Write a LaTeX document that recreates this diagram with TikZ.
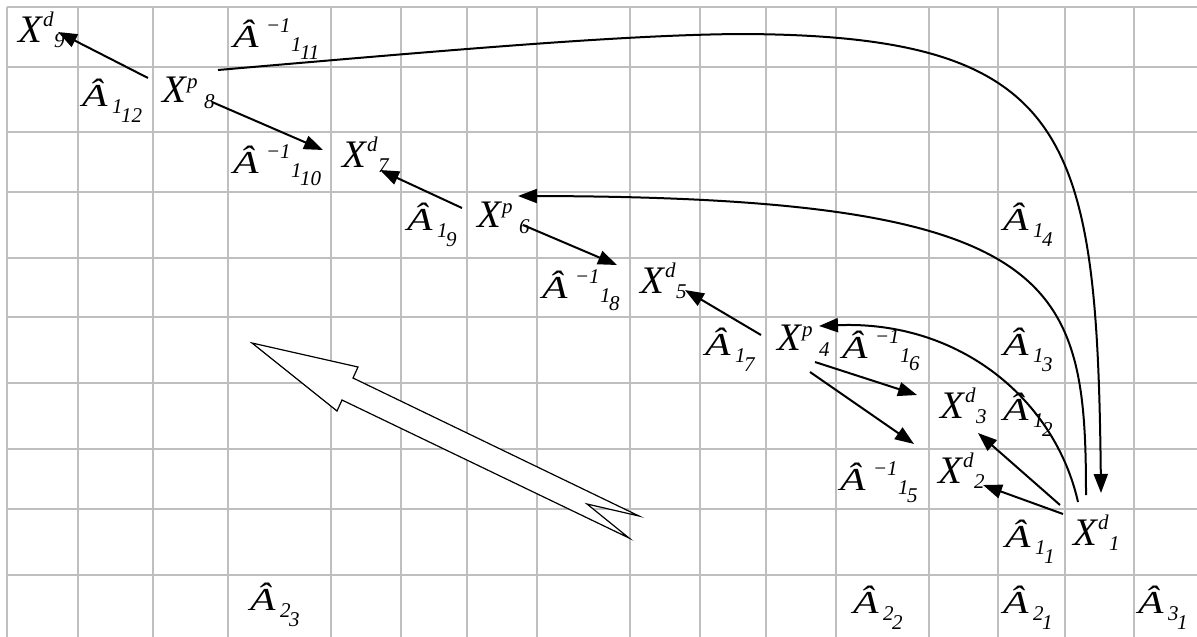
\documentclass[tikz,border=0pt]{standalone}
\usepackage{fontspec}
\setmainfont{Liberation Serif}
\usepackage{graphicx}
\usetikzlibrary{arrows.meta}
\newcommand\fX{\fontsize{39}{40}\selectfont\itshape}
\newcommand\fS{\fontsize{21}{22}\selectfont\itshape}
\newcommand\Ahat{\scalebox{1.3}[1]{\fontsize{32}{34}\selectfont\itshape Â}}
\newcommand\Xdl[2]{\rlap{\fX X}\hspace{25pt}\raisebox{16pt}{\rlap{\fS #1}}\hspace{11pt}\raisebox{-5pt}{\fS #2}}
\newcommand\Xpl[2]{\rlap{\fX X}\hspace{25pt}\raisebox{14pt}{\rlap{\fS #1}}\hspace{17pt}\raisebox{-6pt}{\fS #2}}
\newcommand\Al[2]{\rlap{\Ahat}\hspace{30pt}\raisebox{-7pt}{\rlap{\fS #1}}\hspace{9pt}\raisebox{-16pt}{\fS #2}}
\newcommand\Ail[2]{\rlap{\Ahat}\hspace{33pt}\raisebox{15pt}{\rlap{\fS −1}}\hspace{25pt}\raisebox{-4pt}{\rlap{\fS #1}}\hspace{9pt}\raisebox{-12pt}{\fS #2}}
\tikzset{
  gridline/.style={draw=black!25, line width=1.5pt},
  lbl/.style={anchor=base west, inner sep=0pt, outer sep=0pt},
  conn/.style={line width=2pt, -{Triangle[length=19pt,width=14pt]}},
  hollow/.style={draw=black, line width=1.2pt, fill=white, line join=miter}
}
\begin{document}
\begin{tikzpicture}[x=1pt,y=-1pt]
\useasboundingbox (0,0) rectangle (1197,637);
\fill[white] (0,0) rectangle (1197,637);
% grid
\foreach \gx in {7,78,153,228,331,401,467,537,630,700,766,836,929,998,1065,1134}
  \draw[gridline] (\gx,7) -- (\gx,637);
\foreach \gy in {7,67,132,192,258,317,383,449,509,575}
  \draw[gridline] (7,\gy) -- (1197,\gy);
% labels
\node[lbl] (X9) at (18,42) {\Xdl{d}{9}};
\node[lbl] (A111) at (233,47) {\Ail{1}{11}};
\node[lbl] (A112) at (82,106) {\Al{1}{12}};
\node[lbl] (X8) at (162,102) {\Xpl{p}{8}};
\node[lbl] (A110) at (233,173) {\Ail{1}{10}};
\node[lbl] (X7) at (342,167) {\Xdl{d}{7}};
\node[lbl] (A19) at (407,230) {\Al{1}{9}};
\node[lbl] (X6) at (477,227) {\Xpl{p}{6}};
\node[lbl] (A18) at (542,298) {\Ail{1}{8}};
\node[lbl] (X5) at (640,293) {\Xdl{d}{5}};
\node[lbl] (A17) at (705,355) {\Al{1}{7}};
\node[lbl] (X4) at (777,350) {\Xpl{p}{4}};
\node[lbl] (A16) at (842,358) {\Ail{1}{6}};
\node[lbl] (A14) at (1003,230) {\Al{1}{4}};
\node[lbl] (A13) at (1003,355) {\Al{1}{3}};
\node[lbl] (X3) at (940,418) {\Xdl{d}{3}};
\node[lbl] (A12) at (1003,420) {\Al{1}{2}};
\node[lbl] (A15) at (840,490) {\Ail{1}{5}};
\node[lbl] (X2) at (938,483) {\Xdl{d}{2}};
\node[lbl] (A11) at (1005,547) {\Al{1}{1}};
\node[lbl] (X1) at (1073,545) {\Xdl{d}{1}};
\node[lbl] (A22) at (853,613) {\Al{2}{2}};
\node[lbl] (A21) at (1003,613) {\Al{2}{1}};
\node[lbl] (A31) at (1138,613) {\Al{3}{1}};
\node[lbl] (A23) at (250,610) {\Al{2}{3}};
% connector end points
\coordinate (x8a) at (148,78);   \coordinate (x9e) at (58,32);
\coordinate (x8b) at (212,102);  \coordinate (a110e) at (323,150);
\coordinate (x6a) at (462,208);  \coordinate (x7e) at (380,170);
\coordinate (x6b) at (523,225);  \coordinate (a18e) at (617,265);
\coordinate (x4a) at (761,335);  \coordinate (x5e) at (685,290);
\coordinate (x4b) at (815,362);  \coordinate (x3e) at (917,395);
\coordinate (x4c) at (810,372);  \coordinate (a15e) at (914,444);
\coordinate (x1a) at (1060,505); \coordinate (x3f) at (978,433);
\coordinate (x1b) at (1063,514); \coordinate (x2e) at (983,485);
\coordinate (x1c) at (1078,502); \coordinate (x4e) at (819,326);
\coordinate (x1d) at (1086,495); \coordinate (x6e) at (518,196);
\coordinate (x8c) at (218,70);   \coordinate (x1e) at (1101,493);
% straight connectors
\draw[conn] (x8a) -- (x9e);
\draw[conn] (x8b) -- (a110e);
\draw[conn] (x6a) -- (x7e);
\draw[conn] (x6b) -- (a18e);
\draw[conn] (x4a) -- (x5e);
\draw[conn] (x4b) -- (x3e);
\draw[conn] (x4c) -- (a15e);
\draw[conn] (x1a) -- (x3f);
\draw[conn] (x1b) -- (x2e);
% curved connectors
\draw[conn] (x1c) .. controls (1055,400) and (960,320) .. (x4e);
\draw[conn] (x1d) .. controls (1086,280) and (1060,197) .. (x6e);
\draw[conn] (x8c) .. controls (450,50) and (620,35) .. (740,34)
   .. controls (1070,35) and (1097,130) .. (x1e);
% big hollow arrow
\draw[hollow] (252,343) -- (358,367) -- (353,378) -- (639,516) -- (587,504)
   -- (629,538) -- (342,400) -- (337,411) -- cycle;
\end{tikzpicture}
\end{document}
